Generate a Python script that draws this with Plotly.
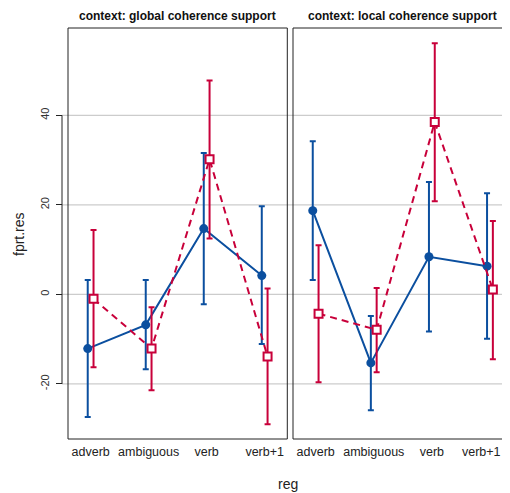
import plotly.graph_objects as go

# ---- data ----
regs = ["adverb", "ambiguous", "verb", "verb+1"]
panels = ["context: global coherence support", "context: local coherence support"]
y_ticks = [-20, 0, 20, 40]

global_blue_mean = [-12.1, -6.8, 14.7, 4.2]
global_blue_lo = [-27.4, -16.7, -2.2, -11.1]
global_blue_hi = [3.2, 3.2, 31.6, 19.7]
global_red_mean = [-1.0, -12.1, 30.2, -13.9]
global_red_lo = [-16.3, -21.4, 12.5, -29.0]
global_red_hi = [14.4, -2.9, 47.8, 1.3]

local_blue_mean = [18.7, -15.3, 8.4, 6.3]
local_blue_lo = [3.2, -25.9, -8.3, -9.9]
local_blue_hi = [34.2, -4.8, 25.1, 22.6]
local_red_mean = [-4.3, -7.9, 38.5, 1.1]
local_red_lo = [-19.6, -17.4, 20.8, -14.5]
local_red_hi = [11.0, 1.4, 56.1, 16.4]

BLUE = "#0b4f9f"
RED = "#c8003a"
FONT = "Liberation Sans, Arial, sans-serif"

# page body has an 8px margin, so the figure is 8px smaller than the window
W, H = 502, 485
ML, MR, MT, MB = 54, 0, 20, 54
PW = W - ML - MR          # 448
PH = H - MT - MB          # 411
REF_L = 62                # plot-area left edge in window pixels
REF_T = 28                # plot-area top edge in window pixels
EDGE_NUDGE = 0.15         # keeps the right-most tick label inside the visible page

def px_x(x):
    return (x - REF_L) / PW

def px_y(y):
    return 1 - (y - REF_T) / PH

fig = go.Figure()

def add_series(xa, ya, mean, lo, hi, color, dodge, solid):
    xs = [i + 1 + dodge for i in range(len(regs))]
    fig.add_trace(go.Scatter(
        x=xs, y=mean, xaxis=xa, yaxis=ya,
        mode="lines+markers",
        line=dict(color=color, width=2, dash="solid" if solid else "7px,5px"),
        marker=dict(
            symbol="circle" if solid else "square",
            size=9 if solid else 8,
            color=color if solid else "white",
            line=dict(color=color, width=0 if solid else 2),
        ),
        error_y=dict(
            type="data", symmetric=False,
            array=[h - m for h, m in zip(hi, mean)],
            arrayminus=[m - l for m, l in zip(mean, lo)],
            color=color, thickness=2, width=3,
        ),
        showlegend=False,
    ))

d = 0.05
add_series("x", "y", global_blue_mean, global_blue_lo, global_blue_hi, BLUE, -d, True)
add_series("x", "y", global_red_mean, global_red_lo, global_red_hi, RED, d, False)
add_series("x2", "y2", local_blue_mean, local_blue_lo, local_blue_hi, BLUE, -d, True)
add_series("x2", "y2", local_red_mean, local_red_lo, local_red_hi, RED, d, False)

left_dom = [px_x(68), px_x(287.3)]
right_dom = [px_x(293), 1.0]
yr = [-32.3, 59.5]

tick_pos = [i + 1 for i in range(len(regs))]
tick_pos_right = tick_pos[:-1] + [tick_pos[-1] - EDGE_NUDGE]

xcommon = dict(
    tickmode="array", ticktext=regs,
    ticks="", showgrid=False, zeroline=False, showline=False,
    ticklabelstandoff=3, ticklabeloverflow="allow",
    tickfont=dict(family=FONT, size=12.5, color="#222"),
)
fig.update_layout(
    xaxis=dict(domain=left_dom, range=[0.61, 4.39], anchor="y", tickvals=tick_pos, **xcommon),
    xaxis2=dict(domain=right_dom, range=[0.61, 0.61 + (510 - 293) / 58.1], anchor="y2",
                tickvals=tick_pos_right, **xcommon),
    yaxis=dict(
        domain=[0, 1], range=yr, anchor="free", position=0,
        tickmode="array", tickvals=y_ticks, ticktext=[str(t) for t in y_ticks],
        ticks="outside", ticklen=6, tickwidth=1, tickcolor="#222",
        tickangle=-90, ticklabelstandoff=3,
        tickfont=dict(family=FONT, size=11, color="#333"),
        showgrid=False, zeroline=False, showline=False,
    ),
    yaxis2=dict(
        domain=[0, 1], range=yr, anchor="x2", matches="y",
        showticklabels=False, ticks="", showgrid=False, zeroline=False, showline=False,
    ),
)

shapes = []
for t in y_ticks:
    shapes.append(dict(type="line", xref="paper", yref="y", x0=0, x1=1, y0=t, y1=t,
                       line=dict(color="#cccccc", width=1.3), layer="below"))
shapes.append(dict(type="line", xref="paper", yref="y", x0=0, x1=0,
                   y0=min(y_ticks), y1=max(y_ticks), line=dict(color="#222", width=1)))
shapes.append(dict(type="rect", xref="x domain", yref="y domain", x0=0, x1=1, y0=0, y1=1,
                   line=dict(color="#222", width=1)))
shapes.append(dict(type="rect", xref="x2 domain", yref="y2 domain", x0=0, x1=1.05, y0=0, y1=1,
                   line=dict(color="#222", width=1)))

annotations = [
    dict(text="<b>" + panels[0] + "</b>", xref="paper", yref="paper",
         x=px_x(177.5), y=px_y(16), xanchor="center", yanchor="middle",
         showarrow=False, font=dict(family=FONT, size=12, color="#111")),
    dict(text="<b>" + panels[1] + "</b>", xref="paper", yref="paper",
         x=px_x(402.5), y=px_y(16), xanchor="center", yanchor="middle",
         showarrow=False, font=dict(family=FONT, size=12, color="#111")),
    dict(text="reg", xref="paper", yref="paper",
         x=px_x(288), y=px_y(484), xanchor="center", yanchor="middle",
         showarrow=False, font=dict(family=FONT, size=14, color="#222")),
    dict(text="fprt.res", xref="paper", yref="paper", textangle=-90,
         x=px_x(19), y=px_y(234), xanchor="center", yanchor="middle",
         showarrow=False, font=dict(family=FONT, size=14, color="#222")),
]

fig.update_layout(
    width=W, height=H,
    margin=dict(l=ML, r=MR, t=MT, b=MB, pad=0),
    paper_bgcolor="white", plot_bgcolor="white",
    shapes=shapes, annotations=annotations,
    showlegend=False,
)

fig.write_html("out.html")
